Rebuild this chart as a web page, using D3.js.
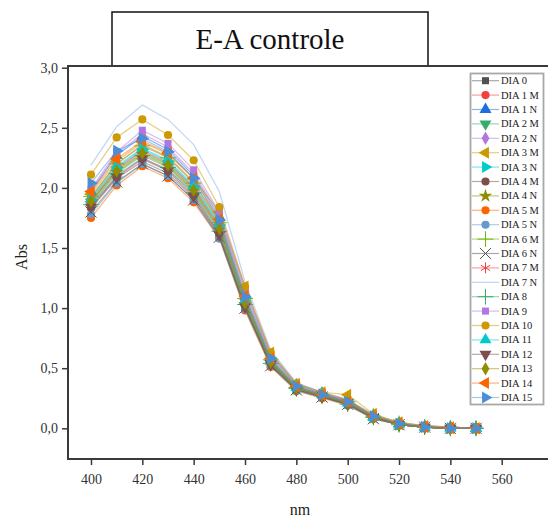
<!DOCTYPE html>
<html>
<head>
<meta charset="utf-8">
<script src="https://cdn.jsdelivr.net/npm/d3@7"></script>
<style>
  html, body { margin: 0; padding: 0; background: #fff; }
  svg { display: block; }
  text { font-family: "Liberation Serif" !important; }
</style>
</head>
<body>
<svg id="chart" width="548" height="519"></svg>
<script>
// wavelengths (nm)
const wavelengths = [400, 410, 420, 430, 440, 450, 460, 470, 480, 490, 500, 510, 520, 530, 540, 550];

const seriesNames = [
  "DIA 0", "DIA 1 M", "DIA 1 N", "DIA 2 M", "DIA 2 N", "DIA 3 M", "DIA 3 N",
  "DIA 4 M", "DIA 4 N", "DIA 5 M", "DIA 5 N", "DIA 6 M", "DIA 6 N", "DIA 7 M",
  "DIA 7 N", "DIA 8", "DIA 9", "DIA 10", "DIA 11", "DIA 12", "DIA 13", "DIA 14", "DIA 15"
];

// absorbance per series
const absDia0   = [1.85, 2.10, 2.25, 2.15, 1.95, 1.62, 1.02, 0.54, 0.33, 0.27, 0.20, 0.09, 0.03, 0.01, 0.00, 0.00];
const absDia1M  = [1.92, 2.20, 2.36, 2.26, 2.05, 1.72, 1.08, 0.57, 0.34, 0.28, 0.22, 0.10, 0.04, 0.01, 0.00, 0.00];
const absDia1N  = [1.97, 2.27, 2.43, 2.32, 2.10, 1.76, 1.12, 0.60, 0.36, 0.29, 0.23, 0.10, 0.04, 0.01, 0.01, 0.00];
const absDia2M  = [1.88, 2.15, 2.30, 2.20, 1.99, 1.67, 1.05, 0.55, 0.33, 0.27, 0.21, 0.09, 0.03, 0.01, 0.00, 0.00];
const absDia2N  = [1.98, 2.28, 2.45, 2.34, 2.12, 1.78, 1.15, 0.61, 0.36, 0.29, 0.23, 0.11, 0.04, 0.02, 0.01, 0.00];
const absDia3M  = [1.95, 2.22, 2.38, 2.28, 2.08, 1.80, 1.18, 0.63, 0.37, 0.30, 0.28, 0.12, 0.05, 0.02, 0.01, 0.00];
const absDia3N  = [1.90, 2.17, 2.32, 2.22, 2.01, 1.69, 1.06, 0.56, 0.33, 0.27, 0.21, 0.09, 0.03, 0.01, 0.00, 0.00];
const absDia4M  = [1.83, 2.08, 2.22, 2.12, 1.92, 1.60, 1.00, 0.53, 0.32, 0.26, 0.20, 0.09, 0.03, 0.01, 0.00, 0.00];
const absDia4N  = [1.87, 2.13, 2.28, 2.18, 1.97, 1.65, 1.03, 0.55, 0.33, 0.27, 0.21, 0.09, 0.03, 0.01, 0.00, 0.00];
const absDia5M  = [1.75, 2.02, 2.18, 2.08, 1.88, 1.58, 0.98, 0.51, 0.31, 0.25, 0.19, 0.08, 0.03, 0.01, 0.00, 0.00];
const absDia5N  = [1.78, 2.04, 2.20, 2.10, 1.90, 1.58, 0.99, 0.52, 0.31, 0.26, 0.19, 0.08, 0.03, 0.01, 0.00, 0.00];
const absDia6M  = [1.93, 2.20, 2.35, 2.25, 2.04, 1.71, 1.08, 0.57, 0.34, 0.28, 0.22, 0.10, 0.04, 0.01, 0.00, 0.00];
const absDia6N  = [1.80, 2.05, 2.20, 2.10, 1.90, 1.59, 1.00, 0.52, 0.32, 0.26, 0.20, 0.08, 0.03, 0.01, 0.00, 0.00];
const absDia7M  = [1.89, 2.16, 2.31, 2.21, 2.00, 1.68, 1.06, 0.56, 0.34, 0.27, 0.21, 0.09, 0.03, 0.01, 0.00, 0.00];
const absDia7N  = [2.19, 2.51, 2.69, 2.57, 2.36, 1.97, 1.22, 0.65, 0.38, 0.30, 0.24, 0.11, 0.05, 0.02, 0.01, 0.00];
const absDia8   = [1.86, 2.12, 2.27, 2.17, 1.96, 1.64, 1.03, 0.54, 0.33, 0.27, 0.20, 0.09, 0.03, 0.01, 0.00, 0.00];
const absDia9   = [1.99, 2.30, 2.48, 2.37, 2.15, 1.80, 1.16, 0.62, 0.37, 0.30, 0.23, 0.11, 0.04, 0.02, 0.01, 0.00];
const absDia10  = [2.11, 2.42, 2.57, 2.44, 2.23, 1.84, 1.18, 0.63, 0.37, 0.30, 0.24, 0.11, 0.05, 0.02, 0.01, 0.00];
const absDia11  = [1.91, 2.18, 2.33, 2.23, 2.02, 1.70, 1.07, 0.56, 0.34, 0.28, 0.21, 0.09, 0.03, 0.01, 0.00, 0.00];
const absDia12  = [1.84, 2.09, 2.24, 2.14, 1.93, 1.61, 1.01, 0.53, 0.32, 0.26, 0.20, 0.09, 0.03, 0.01, 0.00, 0.00];
const absDia13  = [1.89, 2.14, 2.29, 2.19, 1.98, 1.66, 1.04, 0.55, 0.33, 0.27, 0.21, 0.09, 0.03, 0.01, 0.00, 0.00];
const absDia14  = [1.97, 2.24, 2.39, 2.29, 2.08, 1.74, 1.10, 0.58, 0.35, 0.28, 0.22, 0.10, 0.04, 0.01, 0.00, 0.00];
const absDia15  = [2.04, 2.31, 2.41, 2.30, 2.08, 1.73, 1.09, 0.58, 0.35, 0.28, 0.22, 0.10, 0.04, 0.01, 0.00, 0.00];

const seriesValues = [
  absDia0, absDia1M, absDia1N, absDia2M, absDia2N, absDia3M, absDia3N,
  absDia4M, absDia4N, absDia5M, absDia5N, absDia6M, absDia6N, absDia7M,
  absDia7N, absDia8, absDia9, absDia10, absDia11, absDia12, absDia13, absDia14, absDia15
];

const xTicks = [400, 420, 440, 460, 480, 500, 520, 540, 560];
const yTicks = [0, 0.5, 1, 1.5, 2, 2.5, 3];

// marker styles (Origin-like)
const styles = [
  { color: "#515151", symbol: "square" },
  { color: "#F14040", symbol: "circle" },
  { color: "#1A6FDF", symbol: "triUp" },
  { color: "#37AD6B", symbol: "triDown" },
  { color: "#B177DE", symbol: "diamond" },
  { color: "#CC9900", symbol: "triLeft" },
  { color: "#00CBCC", symbol: "triRight" },
  { color: "#7D4E4E", symbol: "circle" },
  { color: "#8E8E00", symbol: "star" },
  { color: "#FB6501", symbol: "circle" },
  { color: "#6699CC", symbol: "circle" },
  { color: "#6FB802", symbol: "plus" },
  { color: "#515151", symbol: "times" },
  { color: "#F14040", symbol: "asterisk" },
  { color: "#7AAEEF", symbol: "none" },
  { color: "#37AD6B", symbol: "plus" },
  { color: "#B177DE", symbol: "square" },
  { color: "#CC9900", symbol: "circle" },
  { color: "#00CBCC", symbol: "triUp" },
  { color: "#7D4E4E", symbol: "triDown" },
  { color: "#8E8E00", symbol: "diamond" },
  { color: "#FB6501", symbol: "triLeft" },
  { color: "#4A8FD6", symbol: "triRight" }
];

const FONT = "Liberation Serif";

const svg = d3.select("#chart");

const frame = { left: 68, top: 66, right: 548, bottom: 459 };

const x = d3.scaleLinear().domain([400, 560]).range([91, 501.7]);
const y = d3.scaleLinear().domain([0, 3]).range([428.3, 67.7]);

const axisColor = "#3a3a3a";

// title box
svg.append("rect")
  .attr("x", 112).attr("y", 12)
  .attr("width", 316).attr("height", 54)
  .attr("fill", "#fff")
  .attr("stroke", "#111")
  .attr("stroke-width", 1.5);

svg.append("text")
  .attr("x", 270).attr("y", 49)
  .attr("text-anchor", "middle")
  .attr("font-size", 29)
  .style("font-family", FONT)
  .attr("fill", "#111")
  .text("E-A controle");

// frame lines
svg.append("path")
  .attr("d", `M${frame.right},${frame.top}H${frame.left}V${frame.bottom}H${frame.right}`)
  .attr("fill", "none")
  .attr("stroke", axisColor)
  .attr("stroke-width", 2);

const fmtY = d => d3.format(".1f")(d).replace(".", ",");

const yAxis = svg.append("g")
  .attr("transform", `translate(${frame.left},0)`)
  .call(d3.axisLeft(y).tickValues(yTicks).tickSize(6).tickPadding(4).tickFormat(fmtY));

const xAxis = svg.append("g")
  .attr("transform", `translate(0,${frame.bottom})`)
  .call(d3.axisBottom(x).tickValues(xTicks).tickSize(6).tickPadding(9).tickFormat(d3.format("d")));

[yAxis, xAxis].forEach(g => {
  g.attr("font-family", FONT);
  g.select(".domain").remove();
  g.selectAll(".tick line").attr("stroke", axisColor).attr("stroke-width", 1.5);
  g.selectAll(".tick text")
    .attr("fill", "#333")
    .attr("font-size", 14)
    .style("font-family", FONT);
});

// axis titles
svg.append("text")
  .attr("transform", "translate(27,257) rotate(-90)")
  .attr("text-anchor", "middle")
  .attr("font-size", 16)
  .style("font-family", FONT)
  .attr("fill", "#222")
  .text("Abs");

svg.append("text")
  .attr("x", 300).attr("y", 515)
  .attr("text-anchor", "middle")
  .attr("font-size", 16)
  .style("font-family", FONT)
  .attr("fill", "#222")
  .text("nm");

// markers
function markerPath(kind, size) {
  const s = size;
  switch (kind) {
    case "square": return d3.symbol(d3.symbolSquare, s * 0.95)();
    case "circle": return d3.symbol(d3.symbolCircle, s)();
    case "triUp":
    case "triDown":
    case "triLeft":
    case "triRight": return d3.symbol(d3.symbolTriangle, s * 1.2)();
    case "diamond": return d3.symbol(d3.symbolDiamond, s)();
    case "star": return d3.symbol(d3.symbolStar, s * 1.1)();
    case "plus": return d3.symbol(d3.symbolPlus, s * 1.6)();
    case "times": return d3.symbol(d3.symbolTimes, s * 1.6)();
    case "asterisk": return d3.symbol(d3.symbolAsterisk, s * 1.6)();
    default: return null;
  }
}

const rotation = { triDown: 180, triLeft: -90, triRight: 90 };
const strokeOnly = new Set(["plus", "times", "asterisk"]);

function drawMarker(g, style, cx, cy, size) {
  const p = markerPath(style.symbol, size);
  if (!p) return;
  const rot = rotation[style.symbol] || 0;
  const m = g.append("path")
    .attr("d", p)
    .attr("transform", `translate(${cx},${cy}) rotate(${rot})`);
  if (strokeOnly.has(style.symbol)) {
    m.attr("fill", "none").attr("stroke", style.color).attr("stroke-width", 1);
  } else {
    m.attr("fill", style.color);
  }
}

const line = d3.line()
  .x((d, i) => x(wavelengths[i]))
  .y(d => y(d));

const plot = svg.append("g");

seriesValues.forEach((vals, si) => {
  const st = styles[si];
  const g = plot.append("g").attr("class", "series");
  g.append("path")
    .datum(vals)
    .attr("d", line)
    .attr("fill", "none")
    .attr("stroke", st.color)
    .attr("stroke-opacity", 0.5)
    .attr("stroke-width", 1.2);
  vals.forEach((v, i) => drawMarker(g, st, x(wavelengths[i]), y(v), 52));
});

// legend
const legend = svg.append("g");
legend.append("rect")
  .attr("x", 470.5).attr("y", 73.5)
  .attr("width", 73).attr("height", 331)
  .attr("fill", "#fff")
  .attr("stroke", "#a8a8a8")
  .attr("stroke-width", 1.8);

seriesNames.forEach((name, i) => {
  const st = styles[i];
  const ly = 80.7 + i * 14.4;
  const item = legend.append("g");
  item.append("line")
    .attr("x1", 472).attr("x2", 499)
    .attr("y1", ly).attr("y2", ly)
    .attr("stroke", st.color)
    .attr("stroke-opacity", 0.5)
    .attr("stroke-width", 1.2);
  drawMarker(item, st, 485.5, ly, 52);
  item.append("text")
    .attr("x", 501).attr("y", ly + 3.5)
    .attr("font-size", 10.5)
    .style("font-family", FONT)
    .attr("fill", "#222")
    .text(name);
});
</script>
</body>
</html>
